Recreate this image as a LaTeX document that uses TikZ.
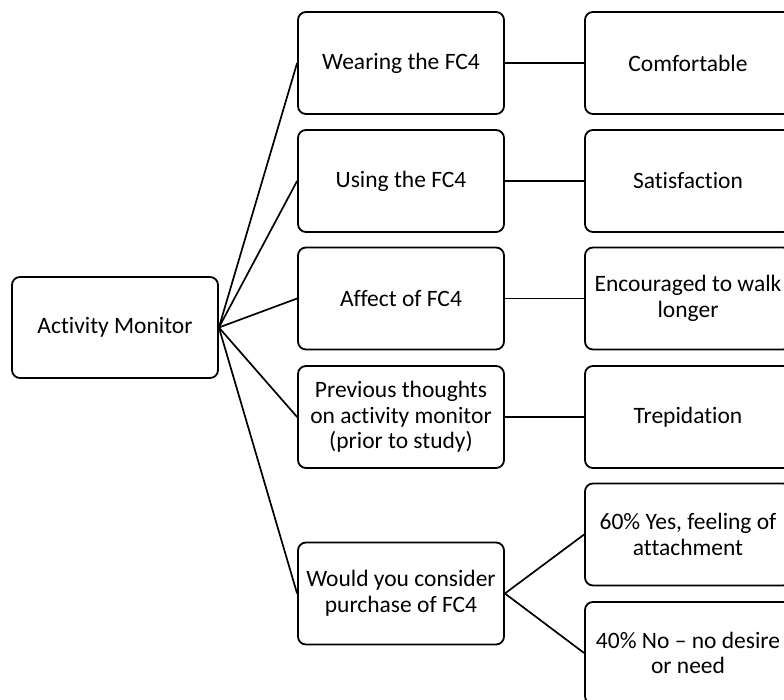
\documentclass[tikz,border=0pt]{standalone}
\usepackage{fontspec}
\setmainfont[Ligatures={NoCommon}]{Carlito}
\usepackage{tikz}

\begin{document}
\begin{tikzpicture}[x=1pt, y=-1pt,
  box/.style={draw, black, line width=1.8pt, rounded corners=8pt,
    minimum width=206pt, minimum height=102pt, inner sep=0pt, align=center,
    font=\fontsize{23.5}{25.6}\selectfont},
  link/.style={black, line width=1.7pt}]
\clip (0,0) rectangle (784,700);

\node[box, minimum height=101pt] (am) at (115,327.5) {Activity Monitor};

\node[box] (wear) at (401,63) {Wearing the FC4};
\node[box] (use) at (401,181) {Using the FC4};
\node[box] (aff) at (401,298.5) {Affect of FC4};
\node[box] (prev) at (401,417) {Previous thoughts\\on activity monitor\\(prior to study)};
\node[box] (buy) at (401,593.5) {Would you consider\\purchase of FC4};

\node[box] (comf) at (688,63) {Comfortable};
\node[box] (sat) at (688,181) {Satisfaction};
\node[box] (walk) at (688,298.5) {Encouraged to walk\\longer};
\node[box] (trep) at (688,417) {Trepidation};
\node[box] (yes) at (688,534.5) {60\% Yes, feeling of\\attachment};
\node[box] (no) at (688,653) {40\% No -- no desire\\or need};

\draw[link] (am.east) -- (wear.west);
\draw[link] (am.east) -- (use.west);
\draw[link] (am.east) -- (aff.west);
\draw[link] (am.east) -- (prev.west);
\draw[link] (am.east) -- (buy.west);

\draw[link] (wear) -- (comf);
\draw[link] (use) -- (sat);
\draw[link] (aff) -- (walk);
\draw[link] (prev) -- (trep);
\draw[link] (buy.east) -- (yes.west);
\draw[link] (buy.east) -- (no.west);

\end{tikzpicture}
\end{document}
